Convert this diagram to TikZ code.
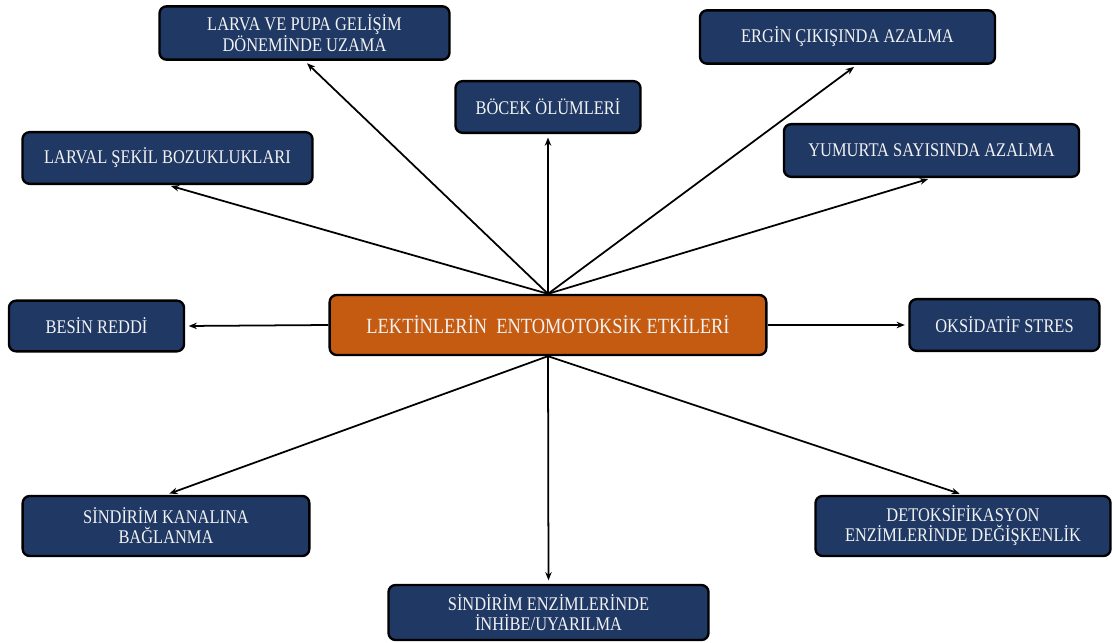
\documentclass[tikz,border=0pt]{standalone}
\usepackage{fontspec}
\setmainfont{Liberation Serif}[FakeStretch=0.85]
\usepackage{tikz}
\usetikzlibrary{arrows.meta,positioning}
\definecolor{boxblue}{HTML}{1F3864}
\definecolor{boxorange}{HTML}{C55A11}
\definecolor{boxtext}{HTML}{F2F2F2}

\begin{document}
\begin{tikzpicture}[x=0.03cm,y=-0.03cm,>={Stealth[length=7pt,width=5.5pt]},
  box/.style={draw=black,line width=2pt,rounded corners=6pt,fill=boxblue,
    text=boxtext,align=center,font=\fontsize{16.5}{17}\selectfont,inner sep=2pt},
  arr/.style={->,line width=1.5pt,shorten >=3pt}]
  \useasboundingbox (0,0) rectangle (1112,643);
  \node[box,fill=boxorange,minimum width=13.1cm,minimum height=1.8cm,
    font=\fontsize{18.5}{20}\selectfont] (c) at (548,325) {LEKTİNLERİN~~ENTOMOTOKSİK ETKİLERİ};
  \node[box,minimum width=8.7cm,minimum height=1.6cm] (larva) at (304.5,33) {LARVA VE PUPA GELİŞİM\\DÖNEMİNDE UZAMA};
  \node[box,minimum width=5.55cm,minimum height=1.55cm] (olum) at (548,107) {BÖCEK ÖLÜMLERİ};
  \node[box,minimum width=8.85cm,minimum height=1.6cm] (ergin) at (847.5,37) {ERGİN ÇIKIŞINDA AZALMA};
  \node[box,minimum width=8.7cm,minimum height=1.55cm] (sekil) at (167.5,158) {LARVAL ŞEKİL BOZUKLUKLARI};
  \node[box,minimum width=8.85cm,minimum height=1.58cm] (yumurta) at (931.5,150.5) {YUMURTA SAYISINDA AZALMA};
  \node[box,minimum width=5.25cm,minimum height=1.52cm] (besin) at (96.5,326) {BESİN REDDİ};
  \node[box,minimum width=5.7cm,minimum height=1.55cm] (oks) at (1004.5,325) {OKSİDATİF STRES};
  \node[box,minimum width=8.6cm,minimum height=1.8cm] (kanal) at (166,526) {SİNDİRİM KANALINA\\BAĞLANMA};
  \node[box,minimum width=9.6cm,minimum height=1.65cm] (enzim) at (548.5,612.5) {SİNDİRİM ENZİMLERİNDE\\İNHİBE/UYARILMA};
  \node[box,minimum width=8.85cm,minimum height=1.8cm] (detoks) at (963,526) {DETOKSİFİKASYON\\ENZİMLERİNDE DEĞİŞKENLİK};
  \draw[arr] (c.north) -- (larva.south);
  \draw[arr] (c.north) -- (olum.south);
  \draw[arr] (c.north) -- ([xshift=8]ergin.south);
  \draw[arr] (c.north) -- (sekil.south);
  \draw[arr] (c.north) -- (yumurta.south);
  \draw[arr] (c.west) -- (besin.east);
  \draw[arr] (c.east) -- (oks.west);
  \draw[arr] (c.south) -- (kanal.north);
  \draw[arr] (c.south) -- (enzim.north);
  \draw[arr] (c.south) -- (detoks.north);
\end{tikzpicture}
\end{document}
